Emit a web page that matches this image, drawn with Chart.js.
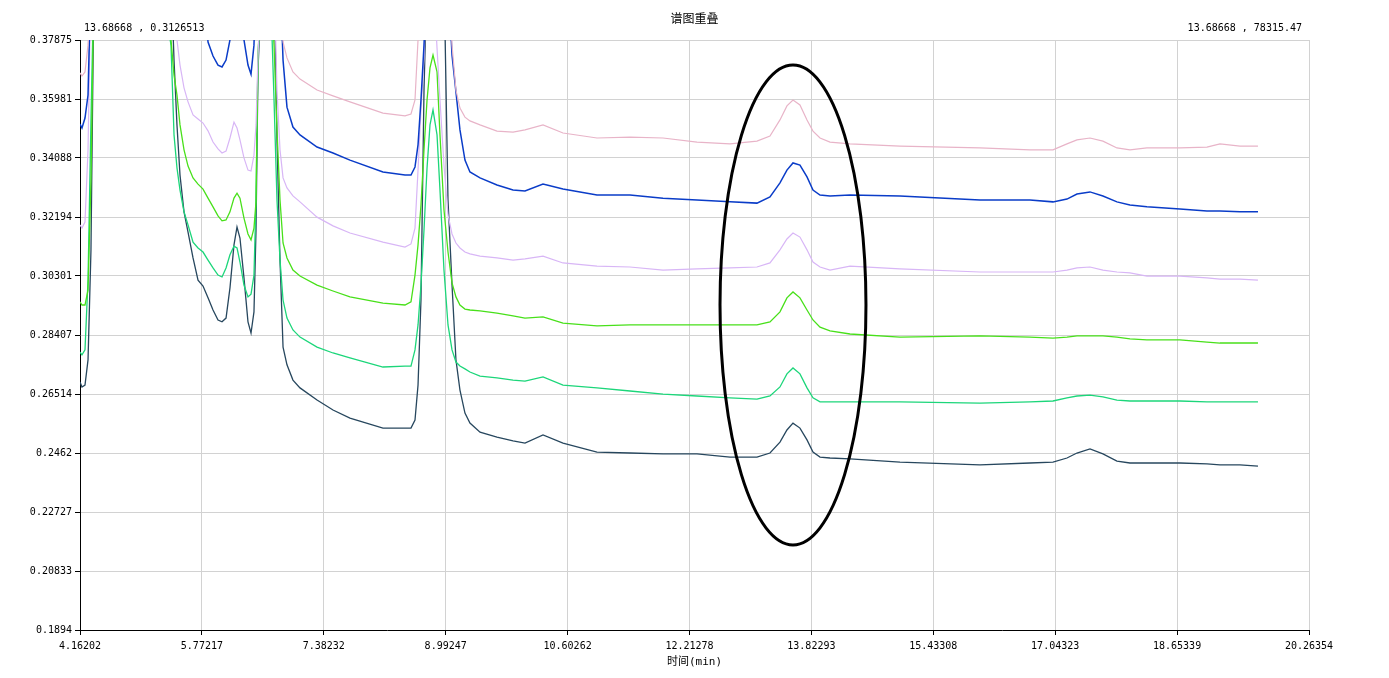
<!DOCTYPE html>
<html lang="zh">
<head>
<meta charset="UTF-8">
<title>谱图重叠</title>
<script src="https://cdn.jsdelivr.net/npm/chart.js"></script>
<style>
  html, body { margin: 0; padding: 0; background: #fff; }
  canvas { display: block; }
</style>
</head>
<body>
<canvas id="chart" width="1389" height="678"></canvas>
<script>
// retention time (min), shared by every trace
const times = [
  4.162, 4.188, 4.228, 4.268, 4.307, 4.347, 4.690, 5.219, 5.364, 5.404,
  5.443, 5.483, 5.536, 5.589, 5.655, 5.721, 5.787, 5.853, 5.919, 5.985,
  6.038, 6.091, 6.143, 6.196, 6.236, 6.275, 6.328, 6.381, 6.421, 6.460,
  6.487, 6.513, 6.566, 6.672, 6.725, 6.764, 6.804, 6.844, 6.896, 6.975,
  7.068, 7.293, 7.504, 7.728, 8.164, 8.455, 8.534, 8.587, 8.627, 8.666,
  8.706, 8.746, 8.785, 8.825, 8.878, 8.917, 8.970, 9.023, 9.076, 9.128,
  9.181, 9.247, 9.313, 9.446, 9.670, 9.882, 10.040, 10.278, 10.542, 10.991,
  11.427, 11.863, 12.312, 12.748, 13.104, 13.276, 13.408, 13.500, 13.580, 13.672,
  13.765, 13.844, 13.937, 14.069, 14.333, 14.993, 16.050, 16.710, 17.014, 17.199,
  17.331, 17.503, 17.674, 17.859, 18.031, 18.255, 18.691, 19.048, 19.220, 19.484,
  19.722
];

// the big solvent peaks run off the top of the plot (0.4 = above range)
const pink = [
  0.3682, 0.3672, 0.3685, 0.3771, 0.4, 0.4, 0.4, 0.4, 0.4, 0.4,
  0.4, 0.4, 0.4, 0.4, 0.4, 0.4, 0.4, 0.4, 0.4, 0.4,
  0.4, 0.4, 0.4, 0.4, 0.4, 0.4, 0.4, 0.4, 0.4, 0.4,
  0.4, 0.4, 0.4, 0.4, 0.4, 0.4, 0.4, 0.3781, 0.3730, 0.3685,
  0.3662, 0.3627, 0.3608, 0.3589, 0.3553, 0.3544, 0.3550, 0.3595, 0.3788, 0.4,
  0.4, 0.4, 0.4, 0.4, 0.4, 0.4, 0.4, 0.4, 0.3771, 0.3627,
  0.3569, 0.3540, 0.3528, 0.3515, 0.3495, 0.3492, 0.3499, 0.3515, 0.3489, 0.3473,
  0.3476, 0.3473, 0.3460, 0.3454, 0.3463, 0.3479, 0.3531, 0.3576, 0.3595, 0.3579,
  0.3531, 0.3495, 0.3473, 0.3460, 0.3454, 0.3447, 0.3441, 0.3435, 0.3435, 0.3454,
  0.3467, 0.3473, 0.3463, 0.3441, 0.3435, 0.3441, 0.3441, 0.3444, 0.3454, 0.3447,
  0.3447
];
const blue = [
  0.3518, 0.3505, 0.3537, 0.3611, 0.4, 0.4, 0.4, 0.4, 0.4, 0.4,
  0.4, 0.4, 0.4, 0.4, 0.4, 0.4, 0.4, 0.3781, 0.3736, 0.3707,
  0.3701, 0.3723, 0.3788, 0.4, 0.4, 0.4, 0.3788, 0.3707, 0.3678, 0.3771,
  0.4, 0.4, 0.4, 0.4, 0.4, 0.4, 0.4, 0.3723, 0.3572, 0.3508,
  0.3483, 0.3444, 0.3425, 0.3402, 0.3364, 0.3354, 0.3354, 0.3380, 0.3451, 0.3595,
  0.3771, 0.4, 0.4, 0.4, 0.4, 0.4, 0.4, 0.4, 0.3739, 0.3621,
  0.3499, 0.3402, 0.3364, 0.3345, 0.3322, 0.3306, 0.3303, 0.3325, 0.3309, 0.3290,
  0.3290, 0.3280, 0.3274, 0.3268, 0.3264, 0.3284, 0.3329, 0.3370, 0.3393, 0.3386,
  0.3348, 0.3306, 0.3290, 0.3287, 0.3290, 0.3287, 0.3274, 0.3274, 0.3268, 0.3277,
  0.3293, 0.3300, 0.3287, 0.3268, 0.3258, 0.3252, 0.3245, 0.3239, 0.3239, 0.3236,
  0.3236
];
const lavender = [
  0.3194, 0.3184, 0.3203, 0.3435, 0.4, 0.4, 0.4, 0.4, 0.4, 0.4,
  0.3788, 0.3707, 0.3634, 0.3589, 0.3547, 0.3534, 0.3521, 0.3496, 0.3460, 0.3438,
  0.3425, 0.3431, 0.3473, 0.3524, 0.3505, 0.3467, 0.3409, 0.3370, 0.3367, 0.3418,
  0.3515, 0.3739, 0.4, 0.4, 0.4, 0.3627, 0.3435, 0.3345, 0.3313, 0.3287,
  0.3268, 0.3219, 0.3191, 0.3168, 0.3139, 0.3123, 0.3133, 0.3184, 0.3370, 0.3563,
  0.3730, 0.4, 0.4, 0.4, 0.3762, 0.3595, 0.3386, 0.3226, 0.3165, 0.3136,
  0.3120, 0.3107, 0.3101, 0.3094, 0.3088, 0.3081, 0.3085, 0.3094, 0.3072, 0.3062,
  0.3059, 0.3049, 0.3053, 0.3056, 0.3059, 0.3072, 0.3114, 0.3149, 0.3168, 0.3155,
  0.3114, 0.3075, 0.3059, 0.3049, 0.3062, 0.3053, 0.3043, 0.3043, 0.3043, 0.3049,
  0.3056, 0.3059, 0.3049, 0.3043, 0.3040, 0.3030, 0.3030, 0.3024, 0.3020, 0.3020,
  0.3017
];
const green = [
  0.2947, 0.2937, 0.2937, 0.2985, 0.3338, 0.4, 0.4, 0.4, 0.3788, 0.3675,
  0.3611, 0.3515, 0.3435, 0.3383, 0.3345, 0.3325, 0.3309, 0.3280, 0.3252, 0.3223,
  0.3207, 0.3210, 0.3236, 0.3280, 0.3296, 0.3280, 0.3216, 0.3165, 0.3146, 0.3184,
  0.3268, 0.3739, 0.4, 0.4, 0.3771, 0.3499, 0.3274, 0.3136, 0.3088, 0.3049,
  0.3030, 0.3001, 0.2982, 0.2963, 0.2943, 0.2937, 0.2947, 0.3033, 0.3130, 0.3258,
  0.3435, 0.3595, 0.3698, 0.3739, 0.3685, 0.3483, 0.3242, 0.3107, 0.3008, 0.2963,
  0.2937, 0.2924, 0.2921, 0.2918, 0.2911, 0.2902, 0.2895, 0.2899, 0.2879, 0.2870,
  0.2873, 0.2873, 0.2873, 0.2873, 0.2873, 0.2883, 0.2915, 0.2960, 0.2979, 0.2960,
  0.2921, 0.2889, 0.2866, 0.2854, 0.2844, 0.2834, 0.2838, 0.2834, 0.2831, 0.2834,
  0.2838, 0.2838, 0.2838, 0.2834, 0.2828, 0.2825, 0.2825, 0.2818, 0.2815, 0.2815,
  0.2815
];
const teal = [
  0.2786, 0.2777, 0.2793, 0.3017, 0.3531, 0.4, 0.4, 0.4, 0.3771, 0.3483,
  0.3377, 0.3306, 0.3236, 0.3194, 0.3139, 0.3120, 0.3107, 0.3081, 0.3056, 0.3033,
  0.3027, 0.3056, 0.3098, 0.3126, 0.3120, 0.3075, 0.3001, 0.2963, 0.2972, 0.3033,
  0.3274, 0.3733, 0.4, 0.4, 0.3595, 0.3274, 0.3081, 0.2953, 0.2895, 0.2857,
  0.2834, 0.2802, 0.2783, 0.2767, 0.2738, 0.2741, 0.2741, 0.2793, 0.2873, 0.3001,
  0.3178, 0.3377, 0.3515, 0.3563, 0.3483, 0.3306, 0.3049, 0.2873, 0.2793, 0.2754,
  0.2741, 0.2732, 0.2722, 0.2709, 0.2703, 0.2696, 0.2693, 0.2706, 0.2680, 0.2671,
  0.2661, 0.2651, 0.2645, 0.2639, 0.2635, 0.2645, 0.2674, 0.2716, 0.2735, 0.2716,
  0.2671, 0.2639, 0.2626, 0.2626, 0.2626, 0.2626, 0.2622, 0.2626, 0.2629, 0.2639,
  0.2645, 0.2648, 0.2642, 0.2632, 0.2629, 0.2629, 0.2629, 0.2626, 0.2626, 0.2626,
  0.2626
];
const navy = [
  0.2690, 0.2674, 0.2680, 0.2761, 0.3114, 0.4, 0.4, 0.4, 0.4, 0.3723,
  0.3515, 0.3354, 0.3236, 0.3171, 0.3088, 0.3017, 0.2998, 0.2960, 0.2921, 0.2889,
  0.2883, 0.2895, 0.2992, 0.3130, 0.3187, 0.3152, 0.3024, 0.2883, 0.2847, 0.2915,
  0.3178, 0.3691, 0.4, 0.4, 0.4, 0.3467, 0.3081, 0.2802, 0.2745, 0.2696,
  0.2671, 0.2632, 0.2600, 0.2574, 0.2542, 0.2542, 0.2542, 0.2568, 0.2680, 0.2953,
  0.3627, 0.4, 0.4, 0.4, 0.4, 0.4, 0.4, 0.3274, 0.3001, 0.2761,
  0.2664, 0.2590, 0.2558, 0.2529, 0.2513, 0.2501, 0.2494, 0.2520, 0.2494, 0.2465,
  0.2462, 0.2459, 0.2459, 0.2449, 0.2449, 0.2462, 0.2497, 0.2536, 0.2558, 0.2542,
  0.2504, 0.2465, 0.2449, 0.2446, 0.2443, 0.2433, 0.2424, 0.2430, 0.2433, 0.2446,
  0.2462, 0.2475, 0.2459, 0.2436, 0.2430, 0.2430, 0.2430, 0.2427, 0.2424, 0.2424,
  0.2420
];

const yTickLabels = ['0.1894', '0.20833', '0.22727', '0.2462', '0.26514', '0.28407',
                     '0.30301', '0.32194', '0.34088', '0.35981', '0.37875'];
const xTickLabels = ['4.16202', '5.77217', '7.38232', '8.99247', '10.60262', '12.21278',
                     '13.82293', '15.43308', '17.04323', '18.65339', '20.26354'];
// the original plot's right edge sits a bit further out than its last label says
const xMax = 20.396;

const cursorLeft = '13.68668 , 0.3126513';
const cursorRight = '13.68668 , 78315.47';
// hand-drawn ring around the 13.6 min peak (centre and half-axes, data units)
const ring = { t: 13.58, v: 0.2937, dt: 0.964, dv: 0.077 };

const mono = "'DejaVu Sans Mono', 'Noto Sans CJK SC', monospace";

const overlay = {
  id: 'overlay',
  afterDatasetsDraw(chart) {
    const { ctx, scales: { x, y } } = chart;
    const cx = x.getPixelForValue(ring.t);
    const cy = y.getPixelForValue(ring.v);
    const rx = x.getPixelForValue(ring.t + ring.dt) - cx;
    const ry = cy - y.getPixelForValue(ring.v + ring.dv);
    ctx.save();
    ctx.beginPath();
    ctx.ellipse(cx, cy, rx, ry, 0, 0, Math.PI * 2);
    ctx.lineWidth = 3;
    ctx.strokeStyle = '#000';
    ctx.stroke();
    ctx.restore();
  },
  afterDraw(chart) {
    const { ctx, chartArea } = chart;
    ctx.save();
    ctx.fillStyle = '#000';
    ctx.textBaseline = 'middle';
    ctx.font = "12px 'Noto Sans CJK SC'";
    ctx.textAlign = 'center';
    ctx.fillText('谱图重叠', (chartArea.left + chartArea.right) / 2, 18);
    ctx.font = '10px ' + mono;
    ctx.textAlign = 'left';
    ctx.fillText(cursorLeft, chartArea.left + 4, 28);
    ctx.textAlign = 'right';
    ctx.fillText(cursorRight, chartArea.right - 7, 28);
    ctx.restore();
  }
};

function series(label, values, color, width) {
  return {
    label: label,
    data: times.map((t, i) => ({ x: t, y: values[i] })),
    borderColor: color,
    borderWidth: width,
    pointRadius: 0,
    tension: 0,
    fill: false
  };
}

new Chart(document.getElementById('chart'), {
  type: 'line',
  data: {
    datasets: [
      series('1', pink, '#E8B4C8', 1.2),
      series('2', blue, '#0A3CC8', 1.5),
      series('3', lavender, '#D8B6F6', 1.2),
      series('4', green, '#48E01A', 1.3),
      series('5', teal, '#1CD67A', 1.3),
      series('6', navy, '#27475E', 1.3)
    ]
  },
  options: {
    responsive: false,
    animation: false,
    events: [],
    layout: { padding: { top: 40, right: 80, left: 0, bottom: 0 } },
    plugins: { legend: { display: false }, tooltip: { enabled: false }, title: { display: false } },
    scales: {
      x: {
        type: 'linear',
        min: 4.16202,
        max: xMax,
        afterBuildTicks: s => {
          s.ticks = xTickLabels.map((l, i) => ({ value: i < xTickLabels.length - 1 ? parseFloat(l) : xMax }));
        },
        afterFit: s => { s.height = 48; },
        ticks: {
          autoSkip: false,
          maxRotation: 0,
          padding: 5,
          color: '#000',
          font: { family: mono, size: 10 },
          callback: (v, i) => xTickLabels[i]
        },
        grid: { color: '#d2d2d2', tickColor: '#000', tickLength: 5 },
        border: { color: '#000', width: 1 },
        title: {
          display: true,
          text: '时间(min)',
          color: '#000',
          font: { family: mono, size: 11 },
          padding: { top: 0, bottom: 9 }
        }
      },
      y: {
        min: 0.1894,
        max: 0.37875,
        afterBuildTicks: s => {
          s.ticks = yTickLabels.map(l => ({ value: parseFloat(l) }));
        },
        afterFit: s => { s.width = 80; },
        ticks: {
          autoSkip: false,
          padding: 3,
          color: '#000',
          font: { family: mono, size: 10 },
          callback: (v, i) => yTickLabels[i]
        },
        grid: { color: '#d2d2d2', tickColor: '#000', tickLength: 5 },
        border: { color: '#000', width: 1 }
      }
    }
  },
  plugins: [overlay]
});
</script>
</body>
</html>
